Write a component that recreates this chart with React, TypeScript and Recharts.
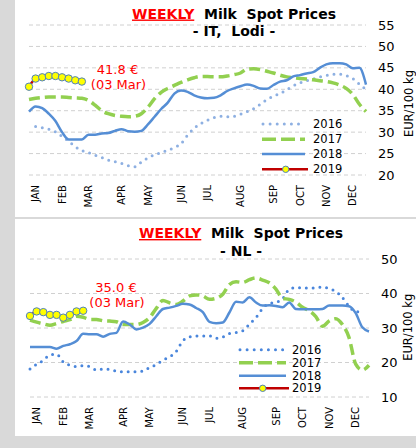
import React from 'react';
import { LineChart, Line, XAxis, YAxis, CartesianGrid } from 'recharts';

const FONT = '"DejaVu Sans", Verdana, sans-serif';

// categories: week numbers
const weeks = [1, 2, 3, 4, 5, 6, 7, 8, 9, 10, 11, 12, 13, 14, 15, 16, 17, 18, 19, 20, 21, 22, 23, 24, 25, 26,
  27, 28, 29, 30, 31, 32, 33, 34, 35, 36, 37, 38, 39, 40, 41, 42, 43, 44, 45, 46, 47, 48, 49, 50, 51, 52];
const monthTickWeeks = [2, 6, 10, 15, 19, 24, 28, 33, 38, 42, 46, 50];
const monthLabels = ['JAN', 'FEB', 'MAR', 'APR', 'MAY', 'JUN', 'JUL', 'AUG', 'SEP', 'OCT', 'NOV', 'DEC'];
const lastDateLabel = '03 Mar';
const seriesNames = ['2016', '2017', '2018', '2019'];

// IT, Lodi
const it2016 = [null, 31.3, 31.0, 30.7, 30.1, 29.0, 27.9, 26.6, 25.7, 25.2, 24.6, 24.1, 23.5, 23.1, 22.7, 22.2, 21.9, 23.0, 24.0, 24.7, 25.2, 25.8, 26.4, 27.3, 29.3, 30.9, 32.0, 32.8, 33.4, 33.7, 33.6, 33.7, 34.2, 34.8, 35.5, 36.5, 37.6, 38.4, 39.0, 39.9, 40.8, 41.5, 42.0, 42.4, 42.9, 43.2, 43.5, 43.5, 43.2, 42.5, 41.2, 39.9];
const it2017 = [37.6, 37.9, 38.1, 38.2, 38.2, 38.2, 38.1, 38.0, 37.9, 37.4, 36.3, 35.0, 34.3, 33.9, 33.7, 33.6, 33.7, 34.3, 35.8, 37.8, 39.3, 40.2, 40.9, 41.6, 42.2, 42.7, 43.0, 43.0, 42.9, 42.9, 43.1, 43.4, 43.8, 44.7, 44.8, 44.6, 44.2, 43.8, 43.3, 42.9, 42.7, 42.5, 42.4, 42.2, 42.0, 41.8, 41.5, 41.0, 40.2, 38.8, 36.5, 34.8];
const it2018 = [34.8, 36.0, 35.6, 34.3, 32.6, 30.0, 28.3, 28.3, 28.3, 29.4, 29.4, 29.7, 29.8, 30.3, 30.7, 30.2, 30.1, 30.3, 31.8, 33.6, 35.4, 36.9, 39.0, 39.7, 39.4, 38.6, 38.1, 37.9, 38.0, 38.6, 39.6, 40.2, 40.7, 41.1, 40.8, 40.2, 40.1, 41.0, 41.8, 42.1, 43.0, 43.3, 43.7, 44.0, 45.0, 45.8, 46.1, 46.1, 45.8, 44.9, 45.0, 41.1];
const it2019 = [40.6, 42.5, 42.8, 43.1, 43.1, 42.8, 42.5, 42.1, 41.8];

// NL
const nl2016 = [18.1, 19.5, 20.6, 22.2, 22.4, 20.2, 19.2, 18.8, 19.1, 18.8, 17.8, 18.1, 18.0, 17.5, 17.3, 17.3, 17.3, 17.5, 18.6, 19.4, 20.7, 21.6, 23.2, 26.3, 27.4, 27.7, 27.7, 27.7, 27.0, 27.4, 28.4, 28.7, 29.2, 31.1, 33.0, 35.7, 37.1, 37.4, 38.5, 41.2, 41.7, 41.6, 41.6, 41.6, 41.9, 41.4, 40.6, 38.8, 36.3, 34.7, 34.7, null];
const nl2017 = [32.3, 31.7, 31.2, 30.8, 31.3, 31.9, 32.4, 33.4, 33.1, 32.5, 32.5, 32.1, 32.0, 31.8, 31.0, 31.0, 31.0, 31.6, 33.0, 35.7, 38.0, 37.3, 36.8, 37.8, 39.3, 39.6, 39.3, 38.3, 38.6, 39.8, 42.6, 43.4, 43.2, 44.0, 44.5, 43.9, 43.1, 41.3, 38.6, 38.3, 37.5, 36.0, 35.0, 33.3, 30.5, 32.0, 32.7, 31.0, 27.2, 19.5, 17.8, 19.2];
const nl2018 = [24.5, 24.5, 24.5, 24.5, 24.0, 24.8, 25.3, 26.2, 28.3, 28.2, 28.2, 27.5, 28.3, 28.6, 31.9, 31.0, 29.6, 30.1, 31.2, 33.4, 35.5, 35.9, 36.4, 37.0, 36.8, 35.8, 34.6, 31.8, 31.4, 31.6, 34.5, 37.6, 37.4, 38.9, 37.4, 36.5, 36.6, 36.4, 36.0, 37.4, 35.5, 35.4, 35.4, 35.4, 35.5, 36.5, 36.5, 36.5, 36.3, 34.3, 30.2, 29.0];
const nl2019 = [33.5, 34.8, 34.6, 33.8, 33.8, 33.0, 33.8, 34.8, 35.0];

const itTicks = [20, 25, 30, 35, 40, 45, 50, 55];
const nlTicks = [10, 20, 30, 40, 50];

const buildRows = (a: any[], b: any[], c: any[], d: any[]) =>
  weeks.map((w, i) => ({ week: w, y2016: a[i], y2017: b[i], y2018: c[i], y2019: d[i] }));

const itRows = buildRows(it2016, it2017, it2018, it2019);
const nlRows = buildRows(nl2016, nl2017, nl2018, nl2019);

const C2017 = '#92D050';
const C2018 = '#558ED5';
const C2019 = '#C00000';
const MARK_FILL = '#FFFF00';
const MARK_STROKE = '#4F81BD';

const MonthTick = (props: any) => {
  const { x, y, payload } = props;
  const idx = monthTickWeeks.indexOf(payload.value);
  return (
    <text x={x} y={y} transform={`rotate(-90 ${x} ${y})`} textAnchor="end" dy="0.36em"
      fontSize={10} fill="#000" fontFamily={FONT}>
      {monthLabels[idx]}
    </text>
  );
};

type PanelCfg = {
  top: number;
  rows: any[];
  c2016: string;
  margin: any;
  yWidth: number;
  xHeight: number;
  yDomain: number[];
  yTicks: number[];
  subtitle: string;
  titleX: number;
  titleY1: number;
  titleY2: number;
  last: number;
  annX: number;
  annY1: number;
  annY2: number;
  legX1: number;
  legX2: number;
  legMark: number;
  legText: number;
  legRows: number[];
  unitY: number;
};

const Legend2 = ({ cfg }: { cfg: PanelCfg }) => (
  <g fontFamily={FONT} fontSize={11.5}>
    {seriesNames.map((n, i) => {
      const y = cfg.legRows[i];
      let sample: any = null;
      if (i === 0)
        sample = <line x1={cfg.legX1 + 1} x2={cfg.legX2} y1={y} y2={y} stroke={cfg.c2016} strokeWidth={3} strokeLinecap="round" strokeDasharray="0 7.1" />;
      if (i === 1)
        sample = <line x1={cfg.legX1} x2={cfg.legX2} y1={y} y2={y} stroke={C2017} strokeWidth={3.5} strokeDasharray="14 5" />;
      if (i === 2)
        sample = <line x1={cfg.legX1} x2={cfg.legX2} y1={y} y2={y} stroke={C2018} strokeWidth={2.5} />;
      if (i === 3)
        sample = (
          <g>
            <line x1={cfg.legX1} x2={cfg.legX2 + 3} y1={y} y2={y} stroke={C2019} strokeWidth={2.5} />
            <circle cx={cfg.legMark} cy={y} r={3.2} fill={MARK_FILL} stroke={MARK_STROKE} strokeWidth={1} />
          </g>
        );
      return (
        <g key={n}>
          {sample}
          <text x={cfg.legText} y={y} dy="0.36em" fill="#000">{n}</text>
        </g>
      );
    })}
  </g>
);

const Panel = ({ cfg }: { cfg: PanelCfg }) => (
  <div style={{ position: 'absolute', left: 0, top: cfg.top, width: 416, height: 217 }}>
    <div style={{ position: 'absolute', left: 15, top: 0, width: 401, height: 217, background: '#fff' }} />
    <div style={{ position: 'absolute', left: 0, top: 0 }}>
      <LineChart width={416} height={217} data={cfg.rows} margin={cfg.margin}>
        <CartesianGrid vertical={false} stroke="#D0D0D0" strokeDasharray="4 3" />
        <XAxis dataKey="week" type="number" domain={[1, 52]} ticks={monthTickWeeks} interval={0}
          tick={(p: any) => <MonthTick {...p} />} tickLine={false} axisLine={false} tickSize={0}
          tickMargin={10} height={cfg.xHeight} />
        <YAxis orientation="right" domain={cfg.yDomain} ticks={cfg.yTicks} interval={0} width={cfg.yWidth}
          tickLine={false} axisLine={false} tickSize={0} tickMargin={12}
          tick={{ fontSize: 13, fill: '#000', fontFamily: FONT }} />
        <Line dataKey="y2016" type="monotone" stroke={cfg.c2016} strokeWidth={3} strokeLinecap="round"
          strokeDasharray="0 6.8" dot={false} activeDot={false} isAnimationActive={false} />
        <Line dataKey="y2017" type="monotone" stroke={C2017} strokeWidth={3.5} strokeDasharray="11 5"
          dot={false} activeDot={false} isAnimationActive={false} />
        <Line dataKey="y2018" type="monotone" stroke={C2018} strokeWidth={2.5}
          dot={false} activeDot={false} isAnimationActive={false} />
        <Line dataKey="y2019" type="monotone" stroke={C2019} strokeWidth={2.5}
          dot={{ r: 3.7, fill: MARK_FILL, stroke: MARK_STROKE, strokeWidth: 1 }}
          activeDot={false} isAnimationActive={false} />
      </LineChart>
    </div>
    <svg width={416} height={217} style={{ position: 'absolute', left: 0, top: 0, pointerEvents: 'none' }}>
      <text x={cfg.titleX} y={cfg.titleY1} textAnchor="middle" fontFamily={FONT} fontWeight="bold"
        fontSize={14} xmlSpace="preserve" style={{ whiteSpace: 'pre' }}>
        <tspan fill="#FF0000" textDecoration="underline">WEEKLY</tspan>
        <tspan fill="#000">{'  Milk  Spot Prices'}</tspan>
      </text>
      <text x={cfg.titleX} y={cfg.titleY2} textAnchor="middle" fontFamily={FONT} fontWeight="bold"
        fontSize={14} fill="#000" xmlSpace="preserve" style={{ whiteSpace: 'pre' }}>
        {cfg.subtitle}
      </text>
      <text x={cfg.annX} y={cfg.annY1} textAnchor="middle" fontFamily={FONT} fontSize={13} fill="#FF0000">
        {`${cfg.last.toFixed(1)} €`}
      </text>
      <text x={cfg.annX + 1} y={cfg.annY2} textAnchor="middle" fontFamily={FONT} fontSize={13} fill="#FF0000">
        {`(${lastDateLabel})`}
      </text>
      <Legend2 cfg={cfg} />
      <text x={412.5} y={cfg.unitY} transform={`rotate(-90 412.5 ${cfg.unitY})`} textAnchor="middle"
        fontFamily={FONT} fontSize={11.5} fill="#000">EUR/100 kg</text>
    </svg>
  </div>
);

const itCfg: PanelCfg = {
  top: 0,
  rows: itRows,
  c2016: '#8EB0E2',
  margin: { top: 25, right: 0, bottom: 0, left: 29 },
  yWidth: 50,
  xHeight: 42,
  yDomain: [20, 55],
  yTicks: itTicks,
  subtitle: '- IT,  Lodi -',
  titleX: 234,
  titleY1: 18.5,
  titleY2: 36,
  last: it2019[it2019.length - 1],
  annX: 117.5,
  annY1: 74,
  annY2: 89,
  legX1: 262,
  legX2: 305,
  legMark: 285.7,
  legText: 313,
  legRows: [124, 139.3, 154, 169.3],
  unitY: 103.5,
};

const nlCfg: PanelCfg = {
  top: 219,
  rows: nlRows,
  c2016: '#4A86DC',
  margin: { top: 40, right: 0, bottom: 0, left: 30 },
  yWidth: 47,
  xHeight: 39,
  yDomain: [10, 50],
  yTicks: nlTicks,
  subtitle: '- NL -',
  titleX: 241,
  titleY1: 19,
  titleY2: 37.3,
  last: nl2019[nl2019.length - 1],
  annX: 116,
  annY1: 73.3,
  annY2: 88.3,
  legX1: 239,
  legX2: 286,
  legMark: 262.7,
  legText: 292,
  legRows: [130.7, 143.7, 156.7, 169.3],
  unitY: 108.3,
};

export default function App() {
  return (
    <div style={{ position: 'absolute', left: 0, top: 0, width: 416, height: 448, background: '#D9D9D9', overflow: 'hidden' }}>
      <Panel cfg={itCfg} />
      <Panel cfg={nlCfg} />
    </div>
  );
}
